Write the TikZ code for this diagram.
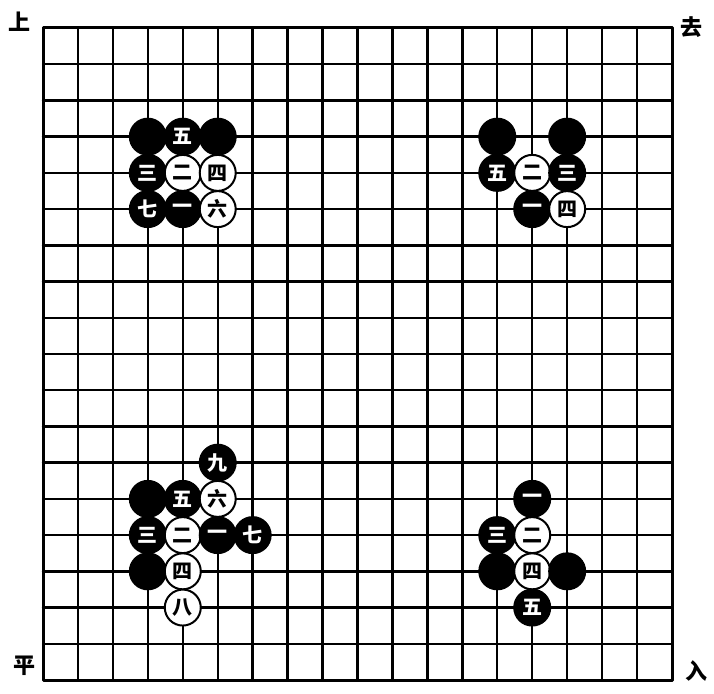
\documentclass[tikz,border=0pt]{standalone}
\usepackage{fontspec}
\newfontfamily\cjk{Noto Sans CJK SC}
\tikzset{
  stone/.style={circle, minimum size=36pt, inner sep=0pt, line width=2pt, draw=black,
    font=\cjk\bfseries\fontsize{20}{20}\selectfont},
  bstone/.style={stone, fill=black, text=white},
  wstone/.style={stone, fill=white, text=black},
  gridline/.style={line width=2.4pt, line cap=round},
  border/.style={line width=3pt, line join=round},
  corner/.style={font=\cjk\bfseries\fontsize{22}{22}\selectfont, inner sep=0pt}
}
\newcommand\putstone[5]{\node[#2] (#1) at ({43+#3*34.944},{28+#4*36.222}) {#5};}
\begin{document}
\begin{tikzpicture}[x=1pt,y=-1pt]
\useasboundingbox (0,0) rectangle (714,693);
\fill[white] (0,0) rectangle (714,693);
% grid
\foreach \i in {1,...,17} {
  \draw[gridline] ({43+\i*34.944},28) -- ({43+\i*34.944},680);
  \draw[gridline] (43,{28+\i*36.222}) -- (672,{28+\i*36.222});
}
\draw[border] (43,28) rectangle (672,680);
% corner labels
\node[corner] (shang) at (20,22) {上};
\node[corner] (qu) at (691,27) {去};
\node[corner] (ping) at (24,666) {平};
\node[corner] (ru) at (696,671) {入};
% top-left group
\putstone{tla}{bstone}{3}{3}{}
\putstone{tlb}{bstone}{4}{3}{五}
\putstone{tlc}{bstone}{5}{3}{}
\putstone{tld}{bstone}{3}{4}{三}
\putstone{tle}{wstone}{4}{4}{二}
\putstone{tlf}{wstone}{5}{4}{四}
\putstone{tlg}{bstone}{3}{5}{七}
\putstone{tlh}{bstone}{4}{5}{一}
\putstone{tli}{wstone}{5}{5}{六}
% top-right group
\putstone{tra}{bstone}{13}{3}{}
\putstone{trb}{bstone}{15}{3}{}
\putstone{trc}{bstone}{13}{4}{五}
\putstone{trd}{wstone}{14}{4}{二}
\putstone{tre}{bstone}{15}{4}{三}
\putstone{trf}{bstone}{14}{5}{一}
\putstone{trg}{wstone}{15}{5}{四}
% bottom-left group
\putstone{bla}{bstone}{5}{12}{九}
\putstone{blb}{bstone}{3}{13}{}
\putstone{blc}{bstone}{4}{13}{五}
\putstone{bld}{wstone}{5}{13}{六}
\putstone{ble}{bstone}{3}{14}{三}
\putstone{blf}{wstone}{4}{14}{二}
\putstone{blg}{bstone}{5}{14}{一}
\putstone{blh}{bstone}{6}{14}{七}
\putstone{bli}{bstone}{3}{15}{}
\putstone{blj}{wstone}{4}{15}{四}
\putstone{blk}{wstone}{4}{16}{八}
% bottom-right group
\putstone{bra}{bstone}{14}{13}{一}
\putstone{brb}{bstone}{13}{14}{三}
\putstone{brc}{wstone}{14}{14}{二}
\putstone{brd}{bstone}{13}{15}{}
\putstone{bre}{wstone}{14}{15}{四}
\putstone{brf}{bstone}{15}{15}{}
\putstone{brg}{bstone}{14}{16}{五}
\end{tikzpicture}
\end{document}
